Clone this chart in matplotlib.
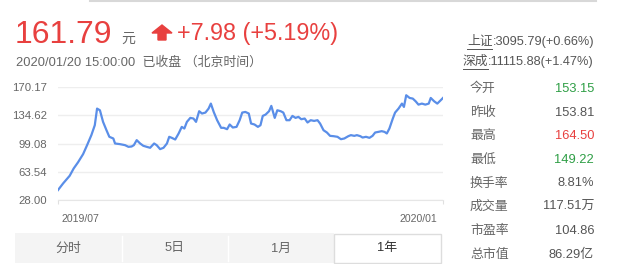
import matplotlib
matplotlib.use("Agg")
import matplotlib.pyplot as plt
from matplotlib.patches import Rectangle, Polygon
from matplotlib.lines import Line2D
import matplotlib.transforms as mtransforms

plt.rcParams['font.family'] = ['Liberation Sans', 'Noto Sans CJK SC', 'DejaVu Sans']

# ---- data ----
days = [0, 1.8, 4.1, 5.5, 7.0, 8.8, 10.2, 11.7, 12.9, 13.7,
        14.7, 15.8, 17.0, 18.0, 19.4, 20.0, 21.7, 23.5, 24.7, 25.8,
        26.6, 27.6, 28.8, 29.9, 31.1, 32.3, 33.7, 34.6, 35.8, 37.0,
        38.2, 39.0, 39.9, 41.1, 42.3, 43.4, 44.3, 45.2, 46.4, 47.5,
        48.4, 49.5, 50.5, 51.7, 52.8, 53.6, 54.6, 55.8, 57.2, 58.1,
        59.3, 60.2, 61.3, 62.6, 63.7, 64.6, 65.7, 66.9, 67.7, 68.9,
        70.1, 71.0, 71.8, 72.8, 74.0, 74.8, 76.0, 76.9, 78.1, 79.0,
        80.1, 81.2, 82.2, 83.3, 84.3, 85.3, 86.5, 87.5, 88.6, 89.8,
        91.0, 91.9, 93.1, 94.3, 95.4, 96.6, 98.0, 99.2, 100.4, 101.8,
        102.7, 103.9, 104.8, 106.0, 106.8, 108.0, 109.2, 110.3, 111.2, 112.3,
        113.5, 114.5, 115.3, 116.2, 117.4, 118.2, 119.4, 120.6, 121.3, 122.1,
        123.3, 124.4, 125.4, 126.4, 127.6, 128.8, 130.0, 130.7, 131.9, 133.0,
        134.2, 135.0]
prices = [40.5, 48.9, 58.5, 67.7, 75.3, 85.7, 97.0, 109.6, 122.1, 143.0,
          140.9, 126.3, 115.8, 107.5, 105.4, 99.1, 98.3, 97.0, 94.9, 95.3,
          97.0, 103.3, 99.1, 96.2, 94.9, 93.7, 99.1, 97.0, 92.0, 93.7,
          99.1, 107.5, 106.2, 104.1, 111.7, 120.0, 117.9, 126.3, 131.3, 130.5,
          126.3, 139.7, 136.8, 138.0, 143.0, 149.3, 138.8, 128.4, 118.8, 118.8,
          117.1, 123.0, 119.2, 120.0, 128.4, 138.0, 138.8, 136.8, 124.2, 123.0,
          120.0, 122.1, 133.8, 135.5, 139.7, 146.4, 131.3, 140.9, 139.7, 138.0,
          128.4, 128.4, 133.8, 131.3, 132.6, 129.6, 130.5, 125.5, 128.4, 127.5,
          128.4, 124.2, 115.8, 112.9, 108.7, 108.3, 107.5, 104.5, 105.4, 108.3,
          109.6, 108.7, 109.6, 108.3, 106.6, 107.5, 106.2, 108.7, 112.9, 113.7,
          114.6, 113.7, 111.7, 117.9, 130.5, 138.0, 143.0, 149.3, 145.1, 159.8,
          156.4, 155.6, 152.2, 148.0, 149.3, 148.0, 149.3, 156.4, 152.2, 149.3,
          153.5, 156.4]
y_ticks = [28.00, 63.54, 99.08, 134.62, 170.17]
y_tick_labels = ["28.00", "63.54", "99.08", "134.62", "170.17"]
x_tick_labels = ["2019/07", "2020/01"]

price_text = "161.79"
change_text = "+7.98 (+5.19%)"
time_text = "2020/01/20 15:00:00  已收盘 （北京时间）"
index_lines = [("上证", ":3095.79(+0.66%)"), ("深成", ":11115.88(+1.47%)")]
stat_labels = ["今开", "昨收", "最高", "最低", "换手率", "成交量", "市盈率", "总市值"]
stat_values = ["153.15", "153.81", "164.50", "149.22", "8.81%", "117.51万", "104.86", "86.29亿"]
stat_colors = ["#2e9e45", "#555555", "#e8403f", "#2e9e45", "#555555", "#555555", "#555555", "#555555"]
tabs = ["分时", "5日", "1月", "1年"]
active_tab = 3

W, H = 619, 264
fig = plt.figure(figsize=(W / 100, H / 100), dpi=100)
fig.patch.set_facecolor("white")


def fx(x):
    return x / W


def fy(y):
    return 1 - y / H


RED = "#e8403f"
GRAY = "#666666"

# top faint line
fig.add_artist(Line2D([fx(90), fx(596)], [fy(0.8), fy(0.8)], color="#d8d8d8", lw=1.5))

# header
fig.text(fx(15), fy(43), price_text, color=RED, fontsize=23, va="baseline", ha="left")
fig.text(fx(121), fy(43), "元", color=GRAY, fontsize=10, va="baseline", ha="left")
arrow = Polygon([[fx(162), fy(25)], [fx(172), fy(33)], [fx(166), fy(33)], [fx(166), fy(40)],
                 [fx(158), fy(40)], [fx(158), fy(33)], [fx(152), fy(33)]],
                closed=True, transform=fig.transFigure, color=RED)
fig.add_artist(arrow)
fig.text(fx(177), fy(40), change_text, color=RED, fontsize=16.8, va="baseline", ha="left")
fig.text(fx(16), fy(65.5), time_text, color=GRAY, fontsize=9.3, va="baseline", ha="left")

# chart
ax = fig.add_axes([fx(58), fy(200), fx(443) - fx(58), fy(87) - fy(200)])
ax.plot(days, prices, color="#5a8ee8", lw=1.6, solid_joinstyle="round")
ax.set_xlim(days[0], days[-1])
ax.set_ylim(y_ticks[0], y_ticks[-1])
ax.set_yticks(y_ticks)
ax.set_yticklabels(y_tick_labels)
ax.grid(axis="y", color="#eeeeee", lw=1)
ax.set_axisbelow(True)
for s in ["top", "right", "left"]:
    ax.spines[s].set_visible(False)
ax.spines["bottom"].set_color("#e6e6e6")
ax.tick_params(axis="y", length=0, pad=8, labelsize=8.2, labelcolor=GRAY)
ax.set_xticks([days[0], days[-1]])
ax.set_xticklabels(x_tick_labels)
ax.tick_params(axis="x", length=3, color="#e0e0e0", pad=7, labelsize=7.6, labelcolor=GRAY)
labs = ax.get_xticklabels()
labs[0].set_ha("left")
labs[0].set_transform(labs[0].get_transform() + mtransforms.ScaledTranslation(4 / 100, 0, fig.dpi_scale_trans))
labs[1].set_ha("right")
labs[1].set_transform(labs[1].get_transform() + mtransforms.ScaledTranslation(-6 / 100, 0, fig.dpi_scale_trans))

# tabs
tab_edges = [15, 122, 228, 334, 441]
for i, t in enumerate(tabs):
    x0, x1 = tab_edges[i], tab_edges[i + 1]
    if i == active_tab:
        r = Rectangle((fx(x0), fy(263)), fx(x1) - fx(x0), fy(234) - fy(263),
                      transform=fig.transFigure, facecolor="white", edgecolor="#dddddd", lw=1)
        col = "#333333"
    else:
        r = Rectangle((fx(x0), fy(263)), fx(x1) - fx(x0), fy(233) - fy(263),
                      transform=fig.transFigure, facecolor="#f4f4f4", edgecolor="none")
        col = GRAY
    fig.add_artist(r)
    if 0 < i < active_tab:
        fig.add_artist(Line2D([fx(x0), fx(x0)], [fy(236), fy(261)], color="#ffffff", lw=1))
    fig.text(fx((x0 + x1) / 2), fy(248.5), t, color=col, fontsize=9.3, ha="center", va="center")

# right panel
index_y = [42, 62]
for (name, rest), y in zip(index_lines, index_y):
    t2 = fig.text(fx(594), fy(y), rest, color="#555555", fontsize=9.2, ha="right", va="center")
    fig.canvas.draw()
    bb = t2.get_window_extent()
    t1 = fig.text(bb.x0 / W, fy(y), name, color="#555555", fontsize=9.2, ha="right", va="center")
    fig.canvas.draw()
    bb1 = t1.get_window_extent()
    fig.add_artist(Line2D([bb1.x0 / W, bb1.x1 / W], [fy(y + 6.5), fy(y + 6.5)], color="#555555", lw=0.7))

row_y = [89, 113, 136, 160, 183.5, 207, 231, 255]
for lab, val, c, y in zip(stat_labels, stat_values, stat_colors, row_y):
    fig.text(fx(470), fy(y), lab, color=GRAY, fontsize=9.3, ha="left", va="center")
    fig.text(fx(594), fy(y), val, color=c, fontsize=9.3, ha="right", va="center")

fig.savefig("out.png", dpi=100, facecolor="white")
